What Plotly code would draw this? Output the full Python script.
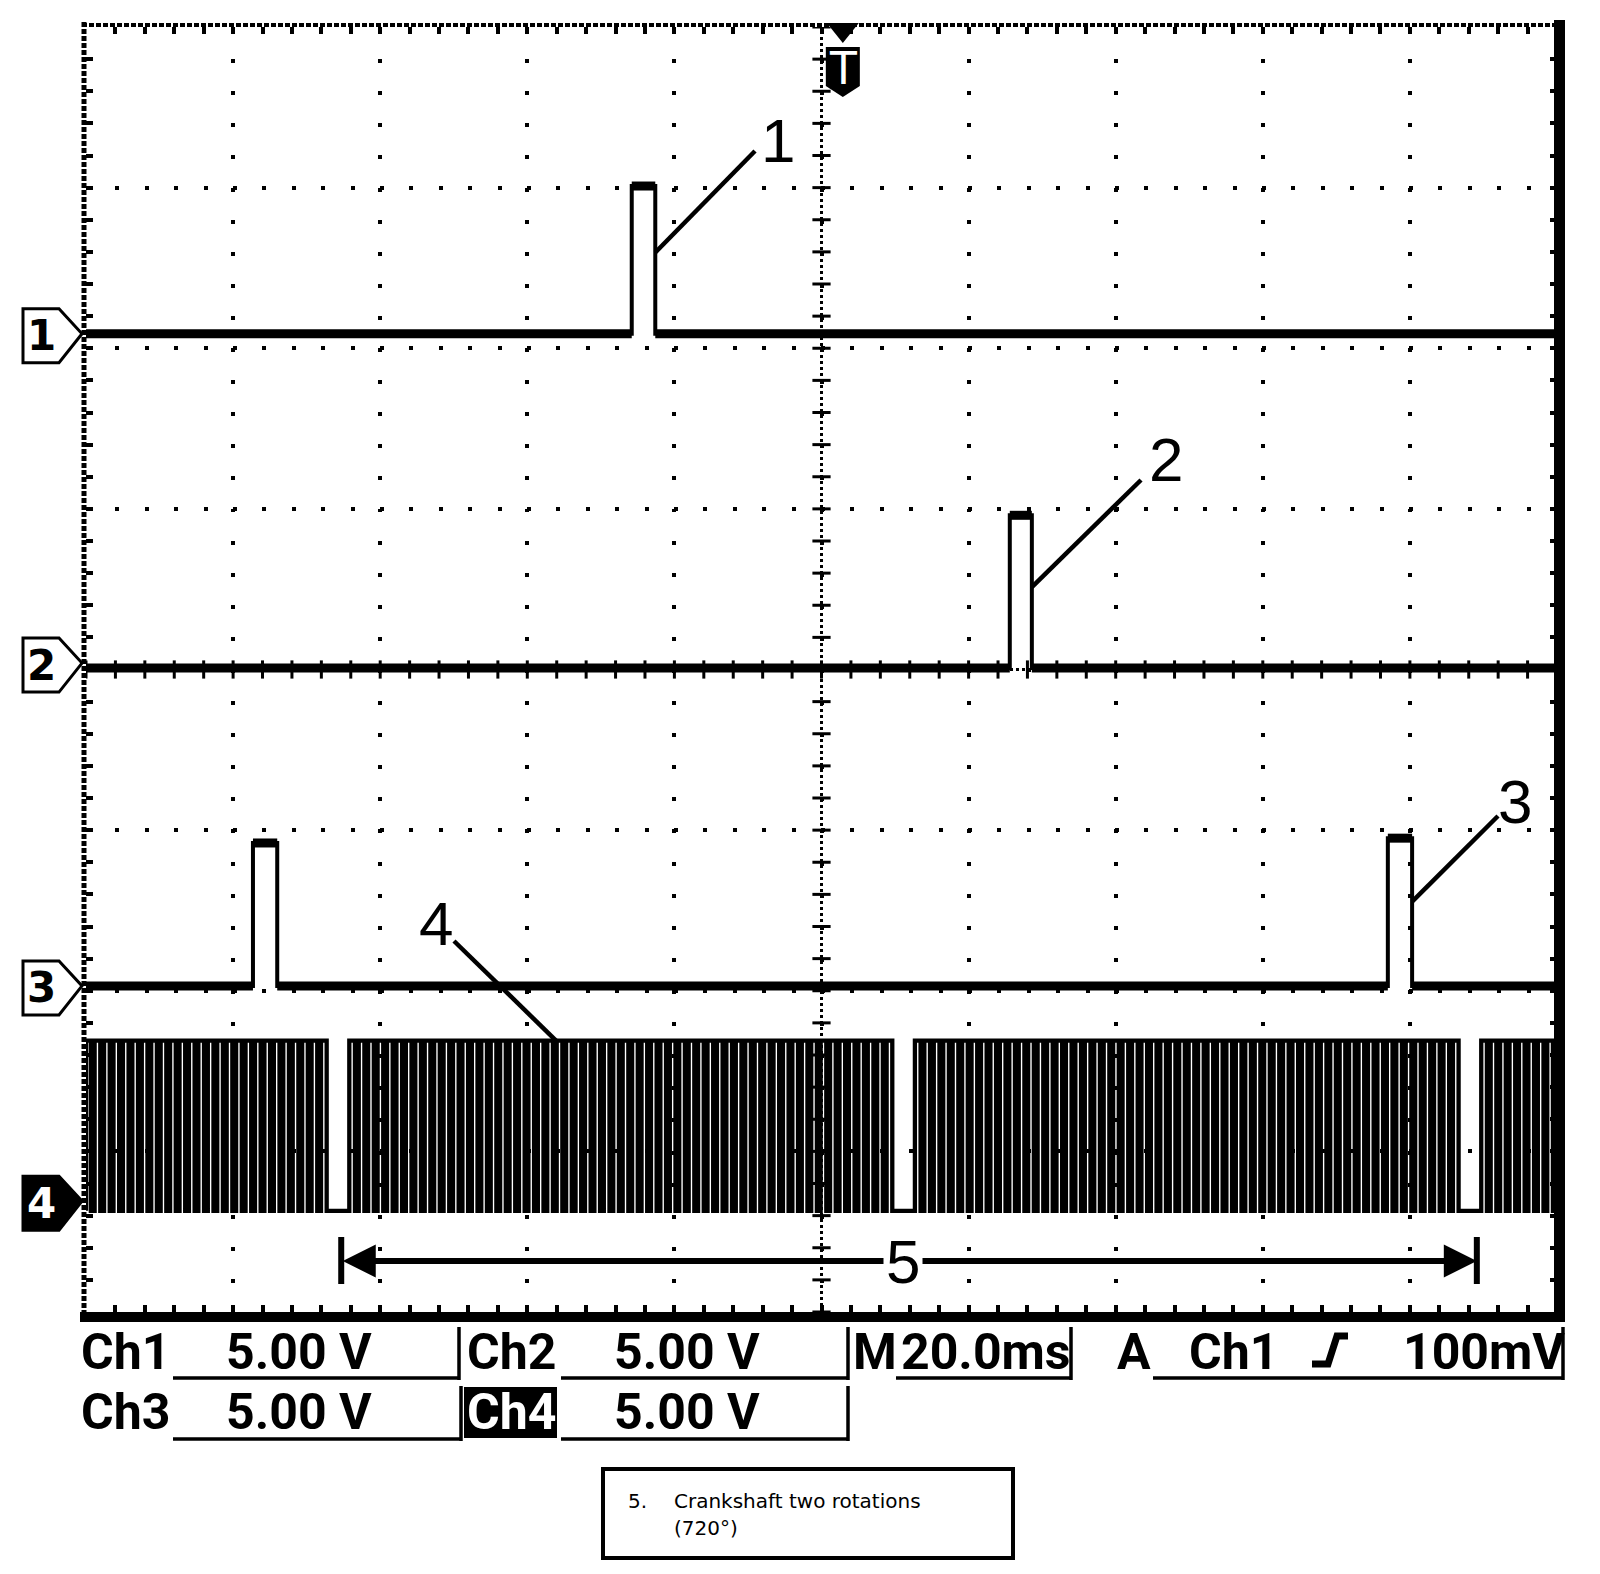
import numpy as np
import plotly.graph_objects as go

time_range_ms = [-100.0, 100.0]      # 10 div x 20.0 ms/div
screen_range_v = [-20.0, 20.0]       # 8 div x 5.00 V/div
major_dt_ms = 20.0
major_dv_v = 5.0

ch1_ground_v = 10.45
ch1_pulse_start_ms = [-25.8]
ch1_pulse_end_ms = [-22.6]
ch1_pulse_amp_v = [4.6]

ch2_ground_v = 0.05
ch2_pulse_start_ms = [25.6]
ch2_pulse_end_ms = [28.6]
ch2_pulse_amp_v = [4.75]

ch3_ground_v = -9.85
ch3_pulse_start_ms = [-77.3, 77.0]
ch3_pulse_end_ms = [-74.0, 80.3]
ch3_pulse_amp_v = [4.45, 4.6]

ch4_ground_v = -16.55
ch4_low_v = -0.3
ch4_high_v = 5.0
ch4_gap_end_ms = [-64.2, 12.7, 89.7]   # first tooth after each missing-tooth gap
ch4_teeth_per_rev = 60
ch4_missing_teeth = 2
ch4_duty = 0.6

trigger_ms = 2.9
two_rotations_ms = [-65.3, 89.1]
channel_names = ["1", "2", "3", "4"]

row1_tokens = ["Ch1", "5.00 V", "Ch2", "5.00 V", "M", "20.0ms", "A", "Ch1", "100mV"]
row2_tokens = ["Ch3", "5.00 V", "Ch4", "5.00 V"]
caption_num = "5."
caption_lines = ["Crankshaft two rotations", "(720°)"]

# ---------------- geometry helpers (layout only, page pixels) ----------------
OFF = 8                       # default page margin around the figure
W, H = 1600 - 2 * OFF, 1574 - 2 * OFF
L_PX, R_PX, T_PX, B_PX = 86, 1557, 27, 1312
PW, PH = R_PX - L_PX, B_PX - T_PX
T0, T1 = time_range_ms
V0, V1 = screen_range_v


def px(x):
    return (x - L_PX) / PW


def py(y):
    return (B_PX - y) / PH


def t_of(x):
    return T0 + (x - L_PX) / PW * (T1 - T0)


def v_of(y):
    return V0 + (B_PX - y) / PH * (V1 - V0)


def x_of_t(t):
    return L_PX + (t - T0) / (T1 - T0) * PW


def y_of_v(v):
    return B_PX - (v - V0) / (V1 - V0) * PH


# ---------------- waveforms ----------------
def pulse_wave(starts, ends, amps, ground):
    x, y = [T0], [ground]
    for s, e, a in zip(starts, ends, amps):
        x += [s, s, e, e]
        y += [ground, ground + a, ground + a, ground]
    x.append(T1)
    y.append(ground)
    return x, y


def pulse_flats(starts, ends, amps, ground):
    x, y = [T0], [ground]
    for s, e, a in zip(starts, ends, amps):
        x += [s, None, s, e, None, e]
        y += [ground, None, ground + a, ground + a, None, ground]
    x.append(T1)
    y.append(ground)
    return x, y


def tooth_wave():
    n_real = ch4_teeth_per_rev - ch4_missing_teeth
    rev = list(np.diff(ch4_gap_end_ms))
    mean_rev = float(np.mean(rev))
    starts = [ch4_gap_end_ms[0] - mean_rev] + list(ch4_gap_end_ms)
    lens = [mean_rev] + rev + [mean_rev]
    lo, hi = ch4_ground_v + ch4_low_v, ch4_ground_v + ch4_high_v
    x, y = [T0], [lo]
    for s, rl in zip(starts, lens):
        p = rl / ch4_teeth_per_rev
        for k in range(n_real):
            r = s + k * p
            f = r + ch4_duty * p
            if f <= T0 or r >= T1:
                continue
            r, f = max(r, T0), min(f, T1)
            x += [r, r, f, f]
            y += [lo, hi, hi, lo]
    x.append(T1)
    y.append(lo)
    return x, y


fig = go.Figure()

# graticule centre-axis ticks
minor_x = np.arange(T0, T1 + 1e-6, major_dt_ms / 5)
minor_y = np.arange(V0, V1 + 1e-6, major_dv_v / 5)
fig.add_trace(go.Scatter(x=np.zeros_like(minor_y), y=minor_y, mode="markers",
                         marker=dict(symbol="line-ew", size=13, line=dict(color="black", width=3)),
                         hoverinfo="skip"))
fig.add_trace(go.Scatter(x=minor_x, y=np.zeros_like(minor_x), mode="markers",
                         marker=dict(symbol="line-ns", size=13, line=dict(color="black", width=3)),
                         hoverinfo="skip"))

chans = [
    (ch1_pulse_start_ms, ch1_pulse_end_ms, ch1_pulse_amp_v, ch1_ground_v),
    (ch2_pulse_start_ms, ch2_pulse_end_ms, ch2_pulse_amp_v, ch2_ground_v),
    (ch3_pulse_start_ms, ch3_pulse_end_ms, ch3_pulse_amp_v, ch3_ground_v),
]
for s, e, a, g in chans:
    fx, fy = pulse_flats(s, e, a, g)
    fig.add_trace(go.Scatter(x=fx, y=fy, mode="lines", line=dict(color="black", width=9),
                             hoverinfo="skip", connectgaps=False))
    wx, wy = pulse_wave(s, e, a, g)
    fig.add_trace(go.Scatter(x=wx, y=wy, mode="lines", line=dict(color="black", width=4),
                             hoverinfo="skip"))

tx4, ty4 = tooth_wave()
fig.add_trace(go.Scatter(x=tx4, y=ty4, mode="lines", line=dict(color="black", width=4.3),
                         hoverinfo="skip"))

# ---------------- furniture ----------------
shapes = []
annotations = []


def seg(x0, y0, x1, y1, w, dash=None):
    ln = dict(color="black", width=w)
    if dash:
        ln["dash"] = dash
    shapes.append(dict(type="line", xref="paper", yref="paper",
                       x0=px(x0), y0=py(y0), x1=px(x1), y1=py(y1), line=ln))


def poly(points, fill="black", lw=0):
    d = "M " + " L ".join(f"{px(a):.5f},{py(b):.5f}" for a, b in points) + " Z"
    shapes.append(dict(type="path", xref="paper", yref="paper", path=d,
                       fillcolor=fill, line=dict(color="black", width=lw)))


def text(s, x, y, size, family="Roboto", weight="bold", color="black", xanchor="left", bg=None):
    a = dict(text=s, x=px(x), y=py(y), xref="paper", yref="paper", showarrow=False,
             xanchor=xanchor, yanchor="middle", borderpad=0,
             font=dict(family=family, size=size, color=color, weight=weight))
    if bg:
        a["bgcolor"] = bg
    annotations.append(a)


# borders
seg(84, 22, 84, 1312, 5, "5px,2px")
seg(82, 25, 1556, 25, 4, "5px,2px")
seg(1559.5, 20, 1559.5, 1322, 11)
seg(80, 1317, 1565, 1317, 10)

# centre lines
shapes.append(dict(type="line", xref="x", yref="paper", x0=0, x1=0, y0=0, y1=1,
                   line=dict(color="black", width=3, dash="3px,3px"), layer="below"))
shapes.append(dict(type="line", xref="paper", yref="y", x0=0, x1=1, y0=0, y1=0,
                   line=dict(color="black", width=3, dash="3px,3px"), layer="below"))

# channel ground markers
grounds = [ch1_ground_v, ch2_ground_v + 0.15, ch3_ground_v, ch4_ground_v]
for name, g in zip(channel_names, grounds):
    c = y_of_v(g)
    filled = name == "4"
    poly([(23, c - 25), (59, c - 25), (82, c), (59, c + 29), (23, c + 29)],
         fill="black" if filled else "white", lw=3)
    text(name, 41, c + 2, 42, family="DejaVu Sans", weight="bold",
         color="white" if filled else "black", xanchor="center")

# trigger marker
tc = x_of_t(trigger_ms)
poly([(tc - 16, 23), (tc + 16, 23), (tc, 43)])
poly([(tc - 17, 47), (tc + 17, 47), (tc + 17, 86), (tc, 97), (tc - 17, 86)])
text("T", tc, 69, 44, family="DejaVu Sans", weight="normal", color="white", xanchor="center")

# callouts 1-4
call_anchor = [
    (ch1_pulse_end_ms[0], ch1_ground_v + 0.55 * ch1_pulse_amp_v[0]),
    (ch2_pulse_end_ms[0], ch2_ground_v + 0.53 * ch2_pulse_amp_v[0]),
    (ch3_pulse_end_ms[1], ch3_ground_v + 0.57 * ch3_pulse_amp_v[1]),
    (t_of(556), ch4_ground_v + ch4_high_v),
]
call_line_end_px = [(755, 151), (1141, 480), (1498, 816), (454, 941)]
call_label_px = [(778, 140), (1166, 459), (1515, 801), (436, 923)]
for name, (ta, va), (lx, ly), (cx, cy) in zip(channel_names, call_anchor, call_line_end_px, call_label_px):
    shapes.append(dict(type="line", xref="x", yref="y", x0=ta, y0=va, x1=t_of(lx), y1=v_of(ly),
                       line=dict(color="black", width=4.5)))
    text(name, cx, cy, 62, family="Liberation Sans", weight="normal", xanchor="center")

# two-rotation span (5)
arrow_v = v_of(1261)
annotations.append(dict(x=two_rotations_ms[1], y=arrow_v, ax=two_rotations_ms[0], ay=arrow_v,
                        xref="x", yref="y", axref="x", ayref="y", text="", showarrow=True,
                        arrowhead=2, startarrowhead=2, arrowside="end+start",
                        arrowwidth=6, arrowsize=1.1, startarrowsize=1.1,
                        standoff=0, startstandoff=0, arrowcolor="black"))
for tt in two_rotations_ms:
    shapes.append(dict(type="line", xref="x", yref="paper", x0=tt, x1=tt, y0=py(1237), y1=py(1284),
                       line=dict(color="black", width=6)))
annotations.append(dict(text="5", x=t_of(903), y=arrow_v, xref="x", yref="y", showarrow=False,
                        xanchor="center", yanchor="middle", bgcolor="white", borderpad=2,
                        font=dict(family="Liberation Sans", size=62, color="black")))

# bottom readout
row1_x = [80, 225, 466, 613, 852, 900, 1116, 1188, 1402]
row2_x = [80, 225, 466, 613]
for s, x in zip(row1_tokens, row1_x):
    text(s, x, 1352, 50)
poly([(464, 1387), (557, 1387), (557, 1438), (464, 1438)])
for s, x in zip(row2_tokens, row2_x):
    text(s, x, 1412, 50, color="white" if s == "Ch4" else "black")
# rising-edge symbol
shapes.append(dict(type="path", xref="paper", yref="paper",
                   path=f"M {px(1312)},{py(1364)} L {px(1328)},{py(1364)} L {px(1337)},{py(1336)} L {px(1348)},{py(1336)}",
                   line=dict(color="black", width=7)))
# underlines and separators
for x0, x1 in [(173, 459), (561, 848), (896, 1071), (1153, 1563)]:
    seg(x0, 1378, x1, 1378, 3.5)
for x in [459, 848, 1071, 1563]:
    seg(x, 1327, x, 1380, 3.5)
for x0, x1 in [(173, 461), (561, 848)]:
    seg(x0, 1439, x1, 1439, 3.5)
for x in [461, 848]:
    seg(x, 1386, x, 1441, 3.5)

# caption box
shapes.append(dict(type="rect", xref="paper", yref="paper", x0=px(603), x1=px(1013),
                   y0=py(1558), y1=py(1469), line=dict(color="black", width=4)))
text(caption_num, 627, 1501, 20, family="DejaVu Sans", weight="normal")
text(caption_lines[0], 673, 1501, 20, family="DejaVu Sans", weight="normal")
text(caption_lines[1], 673, 1528, 20, family="DejaVu Sans", weight="normal")

axis_common = dict(showticklabels=False, zeroline=False, showline=True, linecolor="rgba(0,0,0,0)",
                   linewidth=1, mirror="ticks", ticks="inside", ticklen=7, tickwidth=4,
                   tickcolor="black", showgrid=True, gridcolor="black", gridwidth=4,
                   fixedrange=True, tickmode="linear", tick0=0)

fig.update_layout(
    width=W, height=H,
    margin=dict(l=L_PX - OFF, r=W + OFF - R_PX, t=T_PX - OFF, b=H + OFF - B_PX, pad=0),
    paper_bgcolor="white", plot_bgcolor="white",
    showlegend=False, hovermode=False,
    xaxis=dict(range=time_range_ms, dtick=major_dt_ms, griddash="4px,28.1px",
               minor=dict(tickmode="linear", tick0=0, dtick=major_dt_ms / 5, ticks="inside",
                          ticklen=7, tickwidth=4, tickcolor="black", showgrid=False),
               **axis_common),
    yaxis=dict(range=screen_range_v, dtick=major_dv_v, griddash="4px,25.4px",
               minor=dict(tickmode="linear", tick0=0, dtick=major_dv_v / 5, ticks="inside",
                          ticklen=7, tickwidth=4, tickcolor="black", showgrid=False),
               **axis_common),
    shapes=shapes,
    annotations=annotations,
)

fig.write_html("out.html", config=dict(displayModeBar=False))
